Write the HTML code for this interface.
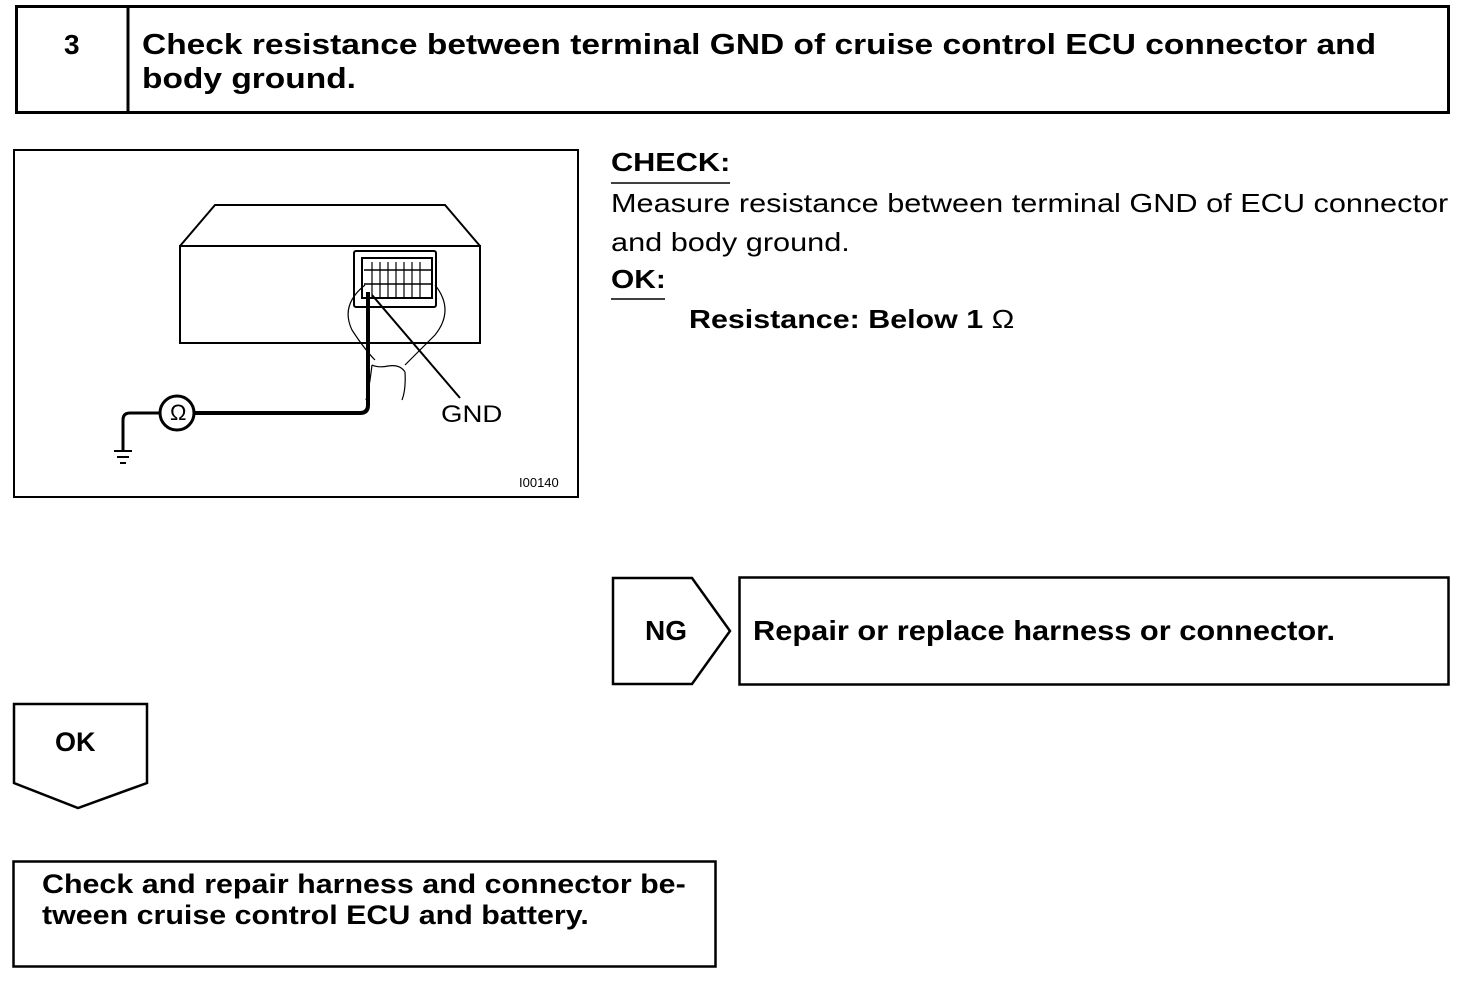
<!DOCTYPE html>
<html><head><meta charset="utf-8"><style>
body{margin:0;width:1472px;height:982px;background:#fff;position:relative;overflow:hidden;font-family:"Liberation Sans",Arial,sans-serif;color:#000}
.t{position:absolute;white-space:nowrap;line-height:1;transform-origin:0 0}
.b{font-weight:bold}
</style></head><body>
<svg width="1472" height="982" style="position:absolute;left:0;top:0" fill="none" stroke="#000">
<rect x="16.5" y="6.5" width="1432" height="106" stroke-width="3"/>
<line x1="128" y1="6" x2="128" y2="112" stroke-width="3"/>
<rect x="14" y="150" width="564" height="347" stroke-width="2"/>
<polyline points="180,246 215,205 445,205 480,246" stroke-width="2"/>
<rect x="180" y="246" width="300" height="97" stroke-width="2"/>
<rect x="354" y="251" width="82" height="56" rx="2" stroke-width="2"/>
<rect x="362" y="258" width="70" height="40" stroke-width="2"/>
<path d="M364,270 H432 M364,284 H432" stroke-width="1.5"/>
<path d="M372,262V298 M380,262V298 M388,262V298 M396,262V298 M404,262V298 M412,262V298 M420,262V298" stroke-width="1.2"/>
<path d="M365,285 Q340,305 352,330 Q365,350 375,360 M435,285 Q455,310 435,335 Q415,355 405,365" stroke-width="1.2"/>
<path d="M372,365 Q378,368 388,366 Q400,364 405,372 M405,372 Q406,390 402,400 M372,365 Q369,390 366,400" stroke-width="1.2"/>
<path d="M368,292 V405 Q368,413 360,413 H195" stroke-width="4"/>
<circle cx="177" cy="413" r="17" stroke-width="3"/>
<path d="M160,413 H130 Q123,413 123,420 V450" stroke-width="3"/>
<path d="M114,451 H132 M117,457 H129 M120,463 H126" stroke-width="2"/>
<line x1="372" y1="295" x2="460" y2="398" stroke-width="2"/>
<line x1="611" y1="183" x2="730" y2="183" stroke-width="1.5"/>
<line x1="611" y1="299" x2="665" y2="299" stroke-width="1.5"/>
<polygon points="613,578 692,578 730,631 692,684 613,684" stroke-width="2.5"/>
<rect x="739.5" y="577.5" width="709" height="107" stroke-width="2.5"/>
<polygon points="14,704 147,704 147,783 78,808 14,783" stroke-width="2.5"/>
<rect x="13.5" y="861.5" width="702" height="105" stroke-width="2.5"/>
</svg>
<div class="t b" style="left:64px;top:31px;font-size:28px">3</div>
<div class="t b" style="left:142px;top:28px;font-size:29px;line-height:34px;transform:scaleX(1.155)">Check resistance between terminal GND of cruise control ECU connector and<br>body ground.</div>
<div class="t" style="left:170px;top:402px;font-size:22px">Ω</div>
<div class="t" style="left:441px;top:403px;font-size:24px;transform:scaleX(1.15)">GND</div>
<div class="t" style="left:519px;top:476px;font-size:13px">I00140</div>
<div class="t b" style="left:611px;top:149px;font-size:26px;transform:scaleX(1.18)">CHECK:</div>
<div class="t" style="left:611px;top:184px;font-size:26px;line-height:39px;transform:scaleX(1.18)">Measure resistance between terminal GND of ECU connector<br>and body ground.</div>
<div class="t b" style="left:611px;top:266px;font-size:26px;transform:scaleX(1.15)">OK:</div>
<div class="t b" style="left:689px;top:306px;font-size:26px;transform:scaleX(1.17)">Resistance: Below 1 <span style="font-weight:normal">Ω</span></div>
<div class="t b" style="left:645px;top:617px;font-size:28px">NG</div>
<div class="t b" style="left:753px;top:617px;font-size:28px;transform:scaleX(1.10)">Repair or replace harness or connector.</div>
<div class="t b" style="left:55px;top:729px;font-size:27px">OK</div>
<div class="t b" style="left:42px;top:869px;font-size:27px;line-height:31px;transform:scaleX(1.126)">Check and repair harness and connector be-<br>tween cruise control ECU and battery.</div>
</body></html>
